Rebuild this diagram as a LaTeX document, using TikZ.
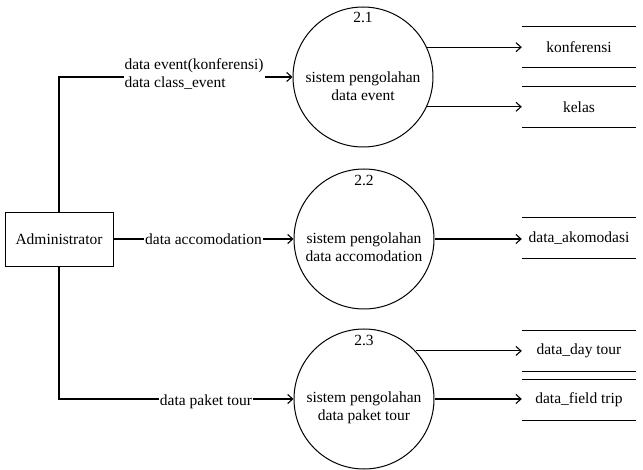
\documentclass[tikz,border=0pt]{standalone}
\usepackage{fontspec}
\setmainfont{Liberation Serif}
\usetikzlibrary{arrows.meta}
\begin{document}
\begin{tikzpicture}[x=1pt,y=-1pt,
  every node/.style={font=\fontsize{15.5}{18}\selectfont},
  proc/.style={draw,circle,line width=1pt,minimum size=140pt,inner sep=0pt},
  entity/.style={draw,line width=0.9pt,minimum width=108pt,minimum height=54pt,inner sep=0pt},
  store/.style={minimum width=114pt,minimum height=40pt,inner sep=0pt},
  storeline/.style={line width=1.1pt},
  flow/.style={line width=1.1pt,-{Straight Barb[length=5pt,width=9pt]}},
  flowlabel/.style={fill=white,inner sep=1pt}]
\useasboundingbox (0,0) rectangle (643,470);
% processes
\node[proc] (c1) at (363,77) {};
\node[proc] (c2) at (364,239) {};
\node[proc] (c3) at (364,399) {};
\node (n1) at (363,17) {2.1};
\node (n2) at (364,180) {2.2};
\node (n3) at (364,340) {2.3};
\node[align=center] (t1) at (363,86) {sistem pengolahan\\data event};
\node[align=center] (t2) at (364,247) {sistem pengolahan\\data accomodation};
\node[align=center] (t3) at (364,408) {sistem pengolahan\\data paket tour};
% entity
\node[entity] (adm) at (59,239) {Administrator};
% stores
\node[store] (s1) at (579,47) {konferensi};
\node[store] (s2) at (579,107) {kelas};
\node[store] (s3) at (579,238) {data\_akomodasi};
\node[store] (s4) at (579,351) {data\_day tour};
\node[store] (s5) at (579,400) {data\_field trip};
\foreach \s in {s1,s2,s3,s4,s5}{
  \draw[storeline] (\s.north west) -- (\s.north east);
  \draw[storeline] (\s.south west) -- (\s.south east);
}
% inputs
\draw[flow] (adm.north) |- (c1.west);
\node[flowlabel,align=left] (l1) at (194,74) {data event(konferensi)\\data class\_event};
\draw[flow] (adm.east) -- node[flowlabel] (l2) {data accomodation} (c2.west);
\draw[flow] (adm.south) |- (c3.west);
\node[flowlabel] (l3) at (206,402) {data paket tour};
% outputs
\draw[flow] (c1.25) -- (c1.25 -| s1.west);
\draw[flow] (c1.-25) -- (c1.-25 -| s2.west);
\draw[flow] (c2.east) -- (c2.east -| s3.west);
\draw[flow] (c3.43) -- (c3.43 -| s4.west);
\draw[flow] (c3.east) -- (c3.east -| s5.west);
\end{tikzpicture}
\end{document}
